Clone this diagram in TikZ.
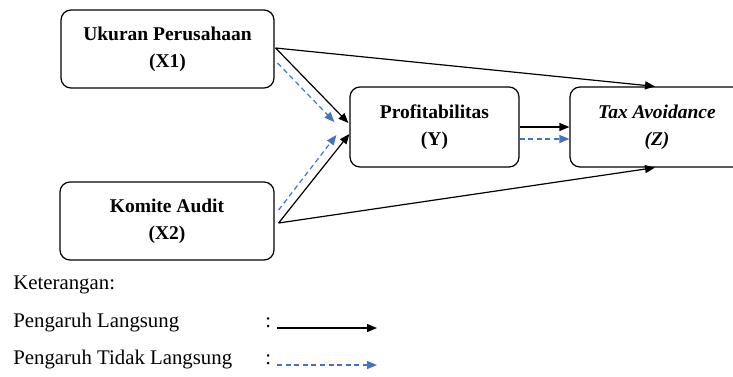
\documentclass[tikz,border=0pt]{standalone}
\usepackage{fontspec}
\setmainfont{Liberation Serif}
\usetikzlibrary{arrows.meta,calc}
\definecolor{dblue}{RGB}{68,114,196}
\begin{document}
\begin{tikzpicture}[x=0.5pt,y=-0.5pt,
  box/.style={draw, line width=0.6pt, rounded corners=5pt, align=center, inner sep=0pt,
    font=\fontsize{9.75}{13.5}\selectfont\bfseries},
  direct/.style={draw, line width=0.6pt, -{Triangle[length=5pt,width=4pt]}},
  indirect/.style={draw=dblue, line width=0.6pt, dash pattern=on 2.5pt off 1.8pt,
    -{Triangle[length=5pt,width=4pt]}},
  legend/.style={anchor=west, inner sep=0pt, font=\fontsize{10.4}{12}\selectfont}]
\useasboundingbox (0,0) rectangle (733,376);

\node[box, minimum width=106.5pt, minimum height=39pt] (x1) at (167.5,49) {Ukuran Perusahaan\\(X1)};
\node[box, minimum width=107pt, minimum height=39pt] (x2) at (167,221) {Komite Audit\\(X2)};
\node[box, minimum width=84.5pt, minimum height=40pt] (y) at (434.5,127) {Profitabilitas\\(Y)};
\node[box, minimum width=87pt, minimum height=40pt, font=\fontsize{9.75}{13.5}\selectfont\bfseries\itshape] (z) at (657,127) {Tax Avoidance\\(Z)};

% direct effects
\draw[direct] ($(x1.east)+(1,-1)$) -- ($(z.north)+(-2,0)$);
\draw[direct] ($(x1.east)+(1,-1)$) -- ($(y.west)+(-1,-4)$);
\draw[direct] ($(x2.east)+(4,2)$) -- ($(y.west)+(0,7)$);
\draw[direct] ($(x2.east)+(4,2)$) -- ($(z.south)+(-2,0)$);
\draw[direct] (y.east) -- (z.west);

% indirect effects
\draw[indirect] ($(x1.east)+(3,14)$) -- ($(y.west)+(-15,-5)$);
\draw[indirect] ($(x2.east)+(4,-11)$) -- ($(y.west)+(-13,8)$);
\draw[indirect] ($(y.east)+(0,12)$) -- ($(z.west)+(0,12)$);

% legend
\node[legend] (ket) at (13,285) {Keterangan:};
\node[legend] (pl) at (13,323) {Pengaruh Langsung};
\node[legend] (ptl) at (13,360) {Pengaruh Tidak Langsung};
\node[legend] (c1) at (265,323) {:};
\node[legend] (c2) at (265,360) {:};
\coordinate (l1a) at (277,328);
\coordinate (l1b) at (377,328);
\coordinate (l2a) at (277,365);
\coordinate (l2b) at (377,365);
\draw[direct] (l1a) -- (l1b);
\draw[indirect] (l2a) -- (l2b);
\end{tikzpicture}
\end{document}
